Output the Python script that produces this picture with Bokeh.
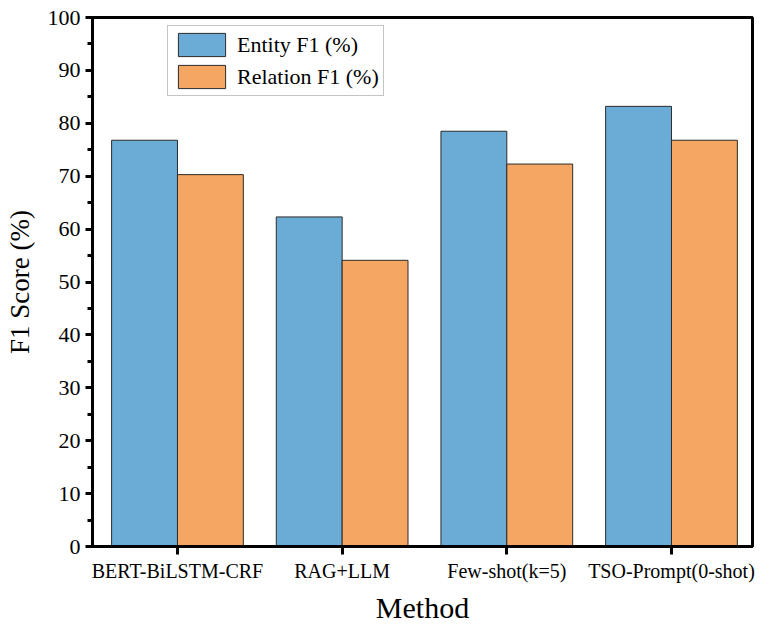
from bokeh.plotting import figure
from bokeh.models import SingleIntervalTicker, FixedTicker, Range1d, Legend
from bokeh.embed import file_html
from bokeh.resources import INLINE

methods = ["BERT-BiLSTM-CRF", "RAG+LLM", "Few-shot(k=5)", "TSO-Prompt(0-shot)"]
entity_f1 = [76.8, 62.3, 78.5, 83.2]
relation_f1 = [70.3, 54.1, 72.3, 76.8]

FONT = "Liberation Serif"
BLUE = "#6BACD6"
ORANGE = "#F5A662"

idx = list(range(len(methods)))
bar_w = 0.4

p = figure(width=755, height=626, output_backend="svg", toolbar_location=None,
           x_range=Range1d(-0.516, 3.492), y_range=Range1d(0, 100),
           min_border_left=92, min_border_right=3, min_border_top=17, min_border_bottom=78)

r1 = p.vbar(x=[i - bar_w / 2 for i in idx], top=entity_f1, width=bar_w,
            fill_color=BLUE, line_color="#2b2b2b", line_width=1)
r2 = p.vbar(x=[i + bar_w / 2 for i in idx], top=relation_f1, width=bar_w,
            fill_color=ORANGE, line_color="#2b2b2b", line_width=1)

p.xgrid.visible = False
p.ygrid.visible = False
p.outline_line_color = "black"
p.outline_line_width = 3
p.outline_line_alpha = 1.0
p.background_fill_color = "white"
p.border_fill_color = "white"

# y axis
ya = p.yaxis[0]
ya.ticker = SingleIntervalTicker(interval=10, num_minor_ticks=2)
ya.axis_label = "F1 Score (%)"
ya.axis_label_text_font = FONT
ya.axis_label_text_font_size = "27px"
ya.axis_label_text_font_style = "normal"
ya.axis_label_text_color = "black"
ya.axis_label_standoff = 10
ya.major_label_text_font = FONT
ya.major_label_text_font_size = "22px"
ya.major_label_text_color = "black"
ya.major_label_standoff = 5
ya.axis_line_width = 3
ya.axis_line_color = "black"
ya.major_tick_line_width = 3
ya.minor_tick_line_width = 3
ya.major_tick_line_color = "black"
ya.minor_tick_line_color = "black"
ya.major_tick_in = 0
ya.major_tick_out = 7
ya.minor_tick_in = 0
ya.minor_tick_out = 5

# x axis
xa = p.xaxis[0]
xa.ticker = FixedTicker(ticks=idx)
xa.major_label_overrides = {i: m for i, m in zip(idx, methods)}
xa.axis_label = "Method"
xa.axis_label_text_font = FONT
xa.axis_label_text_font_size = "30px"
xa.axis_label_text_font_style = "normal"
xa.axis_label_text_color = "black"
xa.axis_label_standoff = 6
xa.major_label_text_font = FONT
xa.major_label_text_font_size = "20px"
xa.major_label_text_color = "black"
xa.major_label_standoff = 5
xa.axis_line_width = 3
xa.axis_line_color = "black"
xa.major_tick_line_width = 3
xa.major_tick_line_color = "black"
xa.major_tick_in = 0
xa.major_tick_out = 8
xa.minor_tick_line_color = None

legend = Legend(items=[("Entity F1 (%)", [r1]), ("Relation F1 (%)", [r2])],
                location=(75, 450))
legend.label_text_font = FONT
legend.label_text_font_size = "22px"
legend.label_text_color = "black"
legend.glyph_width = 59
legend.glyph_height = 29
legend.spacing = 3
legend.padding = 4
legend.margin = 0
legend.label_standoff = 6
legend.border_line_color = "#8a8a8a"
legend.border_line_width = 1
legend.background_fill_alpha = 1.0
p.add_layout(legend, "center")

open("out.html", "w").write(file_html(p, INLINE))
